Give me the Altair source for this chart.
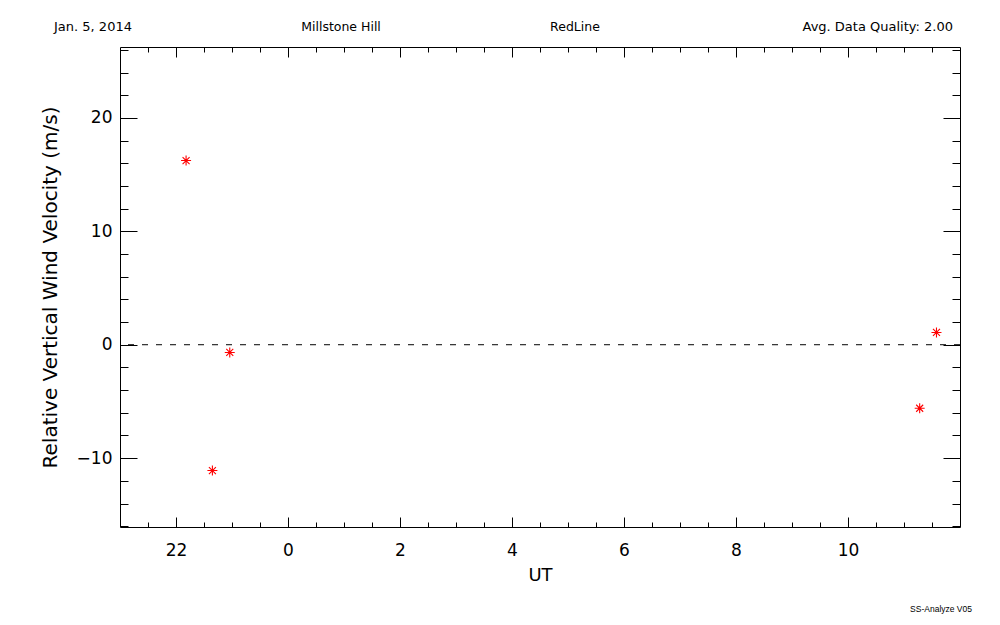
import altair as alt
import pandas as pd

# ---- data ----
ut_hours = [-1.82, -1.35, -1.04, 11.28, 11.58]      # hours relative to 0 UT (22 -> -2)
velocity = [16.24, -11.09, -0.68, -5.60, 1.08]      # m/s

x_major = [-2, 0, 2, 4, 6, 8, 10]
x_minor = [-2.5, -1.5, -1, -0.5, 0.5, 1, 1.5, 2.5, 3, 3.5, 4.5, 5, 5.5,
           6.5, 7, 7.5, 8.5, 9, 9.5, 10.5, 11, 11.5]
y_major = [-10, 0, 10, 20]
y_minor = [-16, -14, -12, -8, -6, -4, -2, 2, 4, 6, 8, 12, 14, 16, 18, 22, 24, 26]

x_domain = [-3, 12]
y_domain = [-16.07, 26.25]

header_date = "Jan. 5, 2014"
header_site = "Millstone Hill"
header_line = "RedLine"
header_quality = "Avg. Data Quality: 2.00"
footer_text = "SS-Analyze V05"
x_title = "UT"
y_title = "Relative Vertical Wind Velocity (m/s)"

df = pd.DataFrame({"ut": ut_hours, "v": velocity})
zero_df = pd.DataFrame({"zero": [0]})

W, H = 840, 480
FONT = "DejaVu Sans"
xs = alt.Scale(domain=x_domain, nice=False, zero=False)
ys = alt.Scale(domain=y_domain, nice=False, zero=False)

ASTERISK = "M-1,0L1,0M0,-1L0,1M-0.7,-0.7L0.7,0.7M-0.7,0.7L0.7,-0.7"


def tick_axis(orient, offset, values, size, domain):
    return alt.Axis(orient=orient, offset=offset, values=values, labels=False,
                    ticks=True, tickSize=size, tickColor="black", tickWidth=1,
                    domain=domain, domainColor="black", domainWidth=1,
                    grid=False, title=None)


def tick_layer(xaxis, yaxis):
    return alt.Chart(df).mark_point(opacity=0).encode(
        x=alt.X("ut:Q", scale=xs, axis=xaxis),
        y=alt.Y("v:Q", scale=ys, axis=yaxis),
    )


x_label_axis = alt.Axis(
    orient="bottom", values=x_major,
    labelExpr="datum.value < 0 ? datum.value + 24 : datum.value",
    ticks=False, tickSize=0, domain=False, grid=False,
    labelFont=FONT, labelFontSize=17, labelColor="black",
    labelPadding=28, labelBaseline="alphabetic", labelFlush=False,
    labelOverlap=False,
    title=x_title, titleFont=FONT, titleFontSize=18, titleFontWeight="normal",
    titleColor="black", titleX=420, titleY=53, titleBaseline="alphabetic",
    titleAlign="center",
)
y_label_axis = alt.Axis(
    orient="left", values=y_major,
    ticks=False, tickSize=0, domain=False, grid=False,
    labelFont=FONT, labelFontSize=17, labelColor="black",
    labelPadding=8, labelBaseline="middle", labelFlush=False,
    labelOverlap=False,
    title=y_title, titleFont=FONT, titleFontSize=20, titleFontWeight="normal",
    titleColor="black", titleX=-64, titleY=240, titleAngle=270,
    titleBaseline="alphabetic", titleAlign="center", titleLimit=600,
)

points = alt.Chart(df).mark_point(
    shape=ASTERISK, size=100, filled=False, stroke="#ff0000",
    strokeWidth=1.1, opacity=1,
).encode(
    x=alt.X("ut:Q", scale=xs, axis=x_label_axis),
    y=alt.Y("v:Q", scale=ys, axis=y_label_axis),
)

dots = alt.Chart(df).mark_point(
    shape="circle", size=6, filled=True, color="#ff0000", opacity=1,
).encode(
    x=alt.X("ut:Q", scale=xs, axis=None),
    y=alt.Y("v:Q", scale=ys, axis=None),
)

zero_line = alt.Chart(zero_df).mark_rule(
    color="black", strokeWidth=1, strokeDash=[6, 8],
).encode(y=alt.Y("zero:Q", scale=ys, axis=None))

bottom_left_major = tick_layer(tick_axis("top", -H, x_major, 10, True),
                               tick_axis("right", -W, y_major, 17, True))
bottom_left_minor = tick_layer(tick_axis("top", -H, x_minor, 5, False),
                               tick_axis("right", -W, y_minor, 8, False))
top_right_major = tick_layer(tick_axis("bottom", -H, x_major, 10, True),
                             tick_axis("left", -W, y_major, 17, True))
top_right_minor = tick_layer(tick_axis("bottom", -H, x_minor, 5, False),
                             tick_axis("left", -W, y_minor, 8, False))


def label(text, x, y, align, size, font=FONT):
    return alt.Chart(alt.Data(values=[{}])).mark_text(
        text=text, x=x, y=y, align=align, baseline="alphabetic",
        font=font, fontSize=size, color="black",
    )


texts = [
    label(header_date, -27, -16, "center", 13),
    label(header_site, 221, -16, "center", 12.5),
    label(header_line, 455, -16, "center", 12.5),
    label(header_quality, 833, -16, "right", 13),
    label(footer_text, 852, 565, "right", 8.5, "Liberation Sans"),
]

chart = alt.layer(
    bottom_left_major, bottom_left_minor, top_right_major, top_right_minor,
    zero_line, points, dots, *texts,
).resolve_axis(x="independent", y="independent").properties(
    width=W, height=H,
    padding={"left": 112, "top": 39, "right": 32, "bottom": 90},
    autosize=alt.AutoSizeParams(type="none"),
    background="white",
).configure_view(stroke="transparent")

chart.save("out.html", embed_options={"renderer": "svg", "actions": False})
